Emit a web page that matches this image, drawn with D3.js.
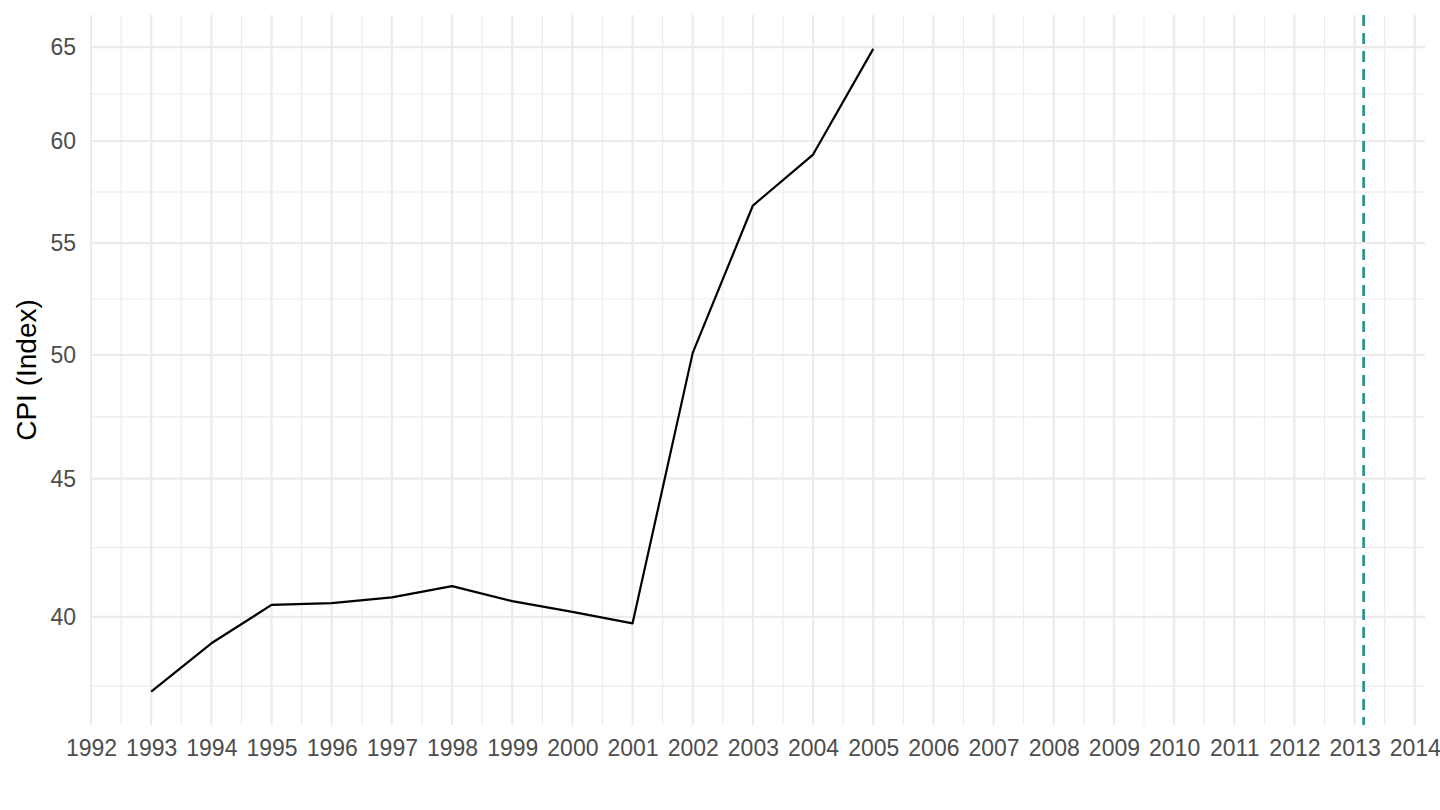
<!DOCTYPE html>
<html>
<head>
<meta charset="utf-8">
<script src="https://cdn.jsdelivr.net/npm/d3@7"></script>
<style>
  body { margin: 0; background: #fff; }
  text { font-family: "Liberation Sans", Arial, sans-serif; }
</style>
</head>
<body>
<div class="chart"></div>
<script>
// CPI index, log y scale
const width = 1440
const height = 810

const years = [1993, 1994, 1995, 1996, 1997, 1998, 1999, 2000, 2001, 2002, 2003, 2004, 2005]
const cpi = [37.53, 39.11, 40.41, 40.47, 40.67, 41.06, 40.54, 40.17, 39.78, 50.09, 56.79, 59.31, 64.9]

const xTicks = d3.range(1992, 2015)
const xMinor = [1992.5, 1993.5, 1994.5, 1995.5, 1996.5, 1997.5, 1998.5, 1999.5, 2000.5, 2001.5, 2002.5,
                2003.5, 2004.5, 2005.5, 2006.5, 2007.5, 2008.5, 2009.5, 2010.5, 2011.5, 2012.5, 2013.5]
const yTicks = [40, 45, 50, 55, 60, 65]
const yMinor = [37.71, 42.43, 47.43, 52.44, 57.45, 62.45]
const eventDate = [2013.15]

const panel = {left: 90, right: 1425, top: 15, bottom: 725}

const x = d3.scaleLinear()
    .domain([1991.983, 2014.17])
    .range([panel.left, panel.right])

const y = d3.scaleLog()
    .domain([36.48, 66.80])
    .range([panel.bottom, panel.top])

const svg = d3.select('.chart')
    .append('svg')
    .attr('width', width)
    .attr('height', height)

const grid = svg.append('g')

// minor grid
grid.selectAll('.ymin').data(yMinor).enter().append('line')
    .attr('x1', panel.left).attr('x2', panel.right)
    .attr('y1', d => y(d)).attr('y2', d => y(d))
    .attr('stroke', '#ebebeb').attr('stroke-width', 1.1)
grid.selectAll('.xmin').data(xMinor).enter().append('line')
    .attr('x1', d => x(d)).attr('x2', d => x(d))
    .attr('y1', panel.top).attr('y2', panel.bottom)
    .attr('stroke', '#ebebeb').attr('stroke-width', 1.1)

// major grid
grid.selectAll('.ymaj').data(yTicks).enter().append('line')
    .attr('x1', panel.left).attr('x2', panel.right)
    .attr('y1', d => y(d)).attr('y2', d => y(d))
    .attr('stroke', '#ebebeb').attr('stroke-width', 2.2)
grid.selectAll('.xmaj').data(xTicks).enter().append('line')
    .attr('x1', d => x(d)).attr('x2', d => x(d))
    .attr('y1', panel.top).attr('y2', panel.bottom)
    .attr('stroke', '#ebebeb').attr('stroke-width', 2.2)

// axes (labels only)
svg.append('g')
    .attr('transform', `translate(0,${panel.bottom})`)
    .call(d3.axisBottom(x).tickValues(xTicks).tickFormat(d3.format('d')).tickSize(0).tickPadding(15))
svg.append('g')
    .attr('transform', `translate(${panel.left},0)`)
    .call(d3.axisLeft(y).tickValues(yTicks).tickFormat(d3.format('d')).tickSize(0).tickPadding(14))

svg.selectAll('.domain').remove()
svg.selectAll('.tick text')
    .attr('fill', '#4d4d4d')
    .style('font-size', '23px')
    .style('font-family', '"Liberation Sans", Arial, sans-serif')

svg.append('text')
    .attr('transform', `translate(36,${(panel.top + panel.bottom) / 2}) rotate(-90)`)
    .attr('text-anchor', 'middle')
    .style('font-size', '28px')
    .attr('fill', '#000')
    .text('CPI (Index)')

// series
const data = years.map((yr, i) => ({year: yr, value: cpi[i]}))
const line = d3.line()
    .x(d => x(d.year))
    .y(d => y(d.value))

svg.append('path')
    .datum(data)
    .attr('d', line)
    .attr('fill', 'none')
    .attr('stroke', '#000')
    .attr('stroke-width', 2.2)
    .attr('stroke-linejoin', 'round')

// dashed marker
svg.selectAll('.vline').data(eventDate).enter().append('line')
    .attr('x1', d => x(d)).attr('x2', d => x(d))
    .attr('y1', panel.top).attr('y2', panel.bottom)
    .attr('stroke', '#21908c')
    .attr('stroke-width', 2.6)
    .attr('stroke-dasharray', '11,7')
</script>
</body>
</html>
